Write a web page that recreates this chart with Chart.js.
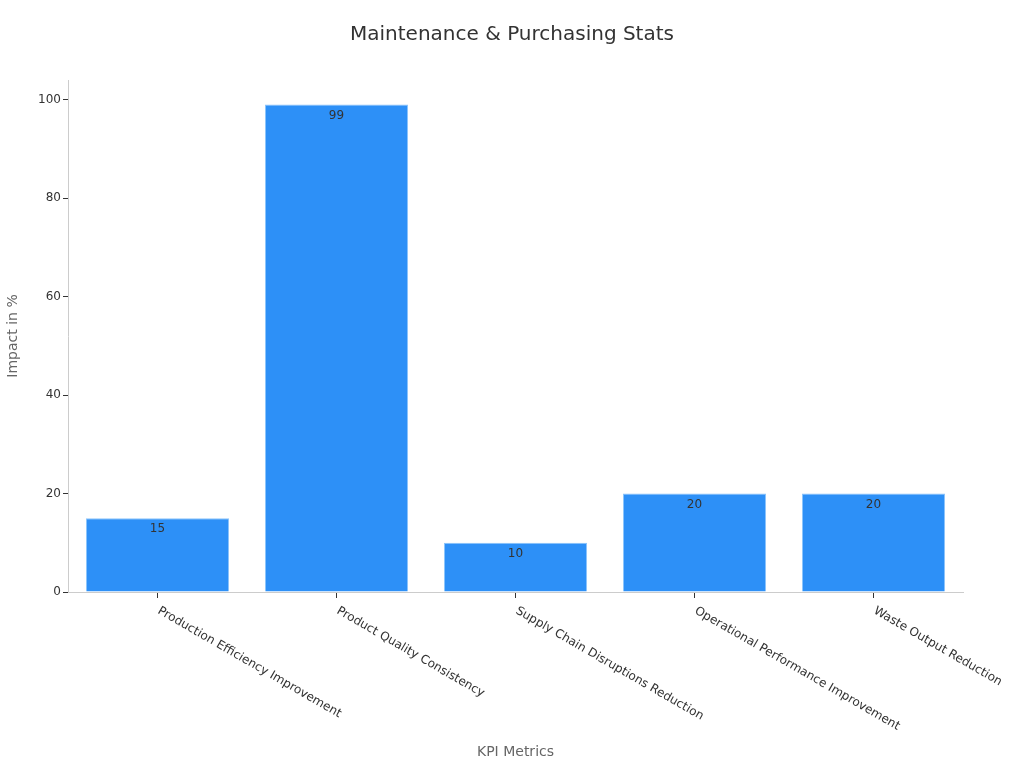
<!DOCTYPE html>
<html>
<head>
<meta charset="utf-8">
<script src="https://cdn.jsdelivr.net/npm/chart.js@4/dist/chart.umd.min.js"></script>
<style>
  html, body { margin: 0; padding: 0; background: #fff; }
  #wrap { width: 1024px; height: 768px; }
</style>
</head>
<body>
<div id="wrap"><canvas id="kpiChart"></canvas></div>
<script>
// Daten
const categories = [
  "Production Efficiency Improvement",
  "Product Quality Consistency",
  "Supply Chain Disruptions Reduction",
  "Operational Performance Improvement",
  "Waste Output Reduction"
];
const impactValues = [15, 99, 10, 20, 20];
const yTicks = [0, 20, 40, 60, 80, 100];

const FONT = "'DejaVu Sans', sans-serif";

// Werte oben in den Balken
const barLabels = {
  id: "barLabels",
  afterDatasetsDraw(chart) {
    const ctx = chart.ctx;
    const meta = chart.getDatasetMeta(0);
    ctx.save();
    ctx.font = "12px " + FONT;
    ctx.fillStyle = "#333";
    ctx.textAlign = "center";
    ctx.textBaseline = "middle";
    meta.data.forEach((bar, i) => {
      ctx.fillText(String(impactValues[i]), bar.x, bar.y + 11);
    });
    ctx.restore();
  }
};

// Schräge Kategorie-Beschriftung (nach rechts unten)
const slantLabels = {
  id: "slantLabels",
  afterDraw(chart) {
    const ctx = chart.ctx;
    const xs = chart.scales.x;
    ctx.save();
    ctx.font = "12px " + FONT;
    ctx.fillStyle = "#333";
    ctx.textAlign = "left";
    ctx.textBaseline = "middle";
    chart.data.labels.forEach((lab, i) => {
      const x = xs.getPixelForTick(i);
      ctx.save();
      ctx.translate(x + 1, xs.top + 18);
      ctx.rotate(Math.PI / 6);
      ctx.fillText(lab, 0, 0);
      ctx.restore();
    });
    ctx.restore();
  }
};

new Chart(document.getElementById("kpiChart"), {
  type: "bar",
  data: {
    labels: categories,
    datasets: [{
      label: "Impact in %",
      data: impactValues,
      backgroundColor: "#2d90f7",
      borderColor: "#8cc4fb",
      borderWidth: 1,
      barPercentage: 0.8,
      categoryPercentage: 1.0
    }]
  },
  options: {
    responsive: true,
    maintainAspectRatio: false,
    animation: false,
    layout: { padding: { top: 15, left: 0, right: 0, bottom: 6 } },
    plugins: {
      legend: { display: false },
      tooltip: { enabled: false },
      title: {
        display: true,
        text: "Maintenance & Purchasing Stats",
        color: "#333",
        font: { family: FONT, size: 20, weight: "normal" },
        padding: { top: 8, bottom: 33 }
      }
    },
    scales: {
      x: {
        offset: true,
        grid: { display: true, offset: false, drawOnChartArea: false, drawTicks: true, tickLength: 6, tickColor: "#333" },
        border: { display: true, color: "#ccc" },
        ticks: { callback: () => "", font: { family: FONT, size: 12 } },
        title: {
          display: true,
          text: "KPI Metrics",
          color: "#666",
          font: { family: FONT, size: 14 },
          padding: { top: 0, bottom: 1 }
        },
        afterFit(scale) { scale.height = 170; }
      },
      y: {
        min: 0,
        max: 104,
        afterBuildTicks(scale) {
          scale.ticks = yTicks.map(v => ({ value: v }));
        },
        grid: { display: true, drawOnChartArea: false, drawTicks: true, tickLength: 5, tickColor: "#333" },
        border: { display: true, color: "#ccc" },
        ticks: {
          color: "#333",
          font: { family: FONT, size: 12 },
          padding: 2
        },
        title: {
          display: true,
          text: "Impact in %",
          color: "#666",
          font: { family: FONT, size: 14 },
          padding: { top: 5, bottom: 8 }
        },
        afterFit(scale) { scale.width = 68; }
      },
      // leerer Rand rechts, damit der Titel mittig bleibt
      spacer: {
        type: "linear",
        position: "right",
        display: true,
        grid: { display: false },
        border: { display: false },
        ticks: { display: false },
        afterFit(scale) { scale.width = 61; }
      }
    }
  },
  plugins: [barLabels, slantLabels]
});
</script>
</body>
</html>
